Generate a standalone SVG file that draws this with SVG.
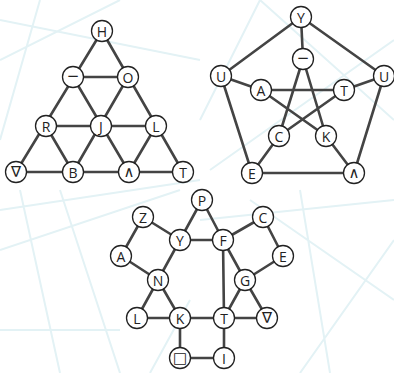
<svg xmlns="http://www.w3.org/2000/svg" width="394" height="373" viewBox="0 0 394 373">
<style>
.bg{stroke:#e3f2f5;stroke-width:2;fill:none}
.e{stroke:#444;stroke-width:2.6;stroke-linecap:round;fill:none}
.n circle{fill:#fff;stroke:#222;stroke-width:1.3}
.n text{font-family:"Open Sans","DejaVu Sans",sans-serif;font-size:14px;fill:#222;text-anchor:middle;dominant-baseline:central}
.n text.s{font-family:"DejaVu Sans",sans-serif;font-size:15px}
</style>
<rect width="394" height="373" fill="#fff"/>
<g id="background">
<path class="bg" d="M0 60 L120 0 M0 250 L180 190 M60 373 L20 190 M0 330 L120 330 M120 373 L60 190 M0 210 L200 180 M150 373 L190 300 M300 373 L394 240 M394 300 L250 200 M330 373 L300 190 M394 200 L200 220 M260 0 L394 120 M210 170 L394 40 M0 140 L40 0 M200 120 L260 0 M0 20 L200 60"/>
</g>
<g id="connectors">
<path class="e" d="M102 31 L16 172 M102 31 L183 172 M73 77 L128 77 M46 126 L156 126 M16 172 L183 172 M73 77 L129 172 M128 77 L73 172 M46 126 L73 172 M156 126 L129 172"/>
<path class="e" d="M301 17 L221 76 M301 17 L384 76 M301 17 L303 59 M221 76 L261 90 M384 76 L344 90 M221 76 L252 173 M384 76 L354 173 M252 173 L354 173 M252 173 L279 136 M354 173 L326 136 M261 90 L344 90 M261 90 L326 136 M344 90 L279 136 M303 59 L279 136 M303 59 L326 136"/>
<path class="e" d="M143 217 L180 240 M143 217 L121 256 M121 256 L158 280 M158 280 L180 240 M180 240 L202 200 M202 200 L223 240 M180 240 L223 240 M223 240 L263 217 M263 217 L283 256 M283 256 L245 280 M223 240 L245 280 M223 240 L224 318 M245 280 L224 318 M245 280 L267 318 M224 318 L267 318 M158 280 L137 318 M158 280 L180 318 M137 318 L224 318 M180 318 L180 358 M224 318 L224 358 M180 358 L224 358"/>
</g>
<g id="tri-H" class="n"><circle cx="102" cy="31" r="10.5"/><text x="102" y="31">H</text></g>
<g id="tri-minus" class="n"><circle cx="73" cy="77" r="10.5"/><text class="s" x="73" y="76">−</text></g>
<g id="tri-O" class="n"><circle cx="128" cy="77" r="10.5"/><text x="128" y="77">O</text></g>
<g id="tri-R" class="n"><circle cx="46" cy="126" r="10.5"/><text x="46" y="126">R</text></g>
<g id="tri-J" class="n"><circle cx="101" cy="126" r="10.5"/><text x="101" y="126">J</text></g>
<g id="tri-L" class="n"><circle cx="156" cy="126" r="10.5"/><text x="156" y="126">L</text></g>
<g id="tri-nabla" class="n"><circle cx="16" cy="172" r="10.5"/><text class="s" x="16" y="172">∇</text></g>
<g id="tri-B" class="n"><circle cx="73" cy="172" r="10.5"/><text x="73" y="172">B</text></g>
<g id="tri-and" class="n"><circle cx="129" cy="172" r="10.5"/><text class="s" x="129" y="172">∧</text></g>
<g id="tri-T" class="n"><circle cx="183" cy="172" r="10.5"/><text x="183" y="172">T</text></g>

<g id="pet-Y" class="n"><circle cx="301" cy="17" r="10.5"/><text x="301" y="17">Y</text></g>
<g id="pet-minus" class="n"><circle cx="303" cy="59" r="10.5"/><text class="s" x="303" y="58">−</text></g>
<g id="pet-U1" class="n"><circle cx="221" cy="76" r="10.5"/><text x="221" y="76">U</text></g>
<g id="pet-U2" class="n"><circle cx="384" cy="76" r="10.5"/><text x="384" y="76">U</text></g>
<g id="pet-A" class="n"><circle cx="261" cy="90" r="10.5"/><text x="261" y="90">A</text></g>
<g id="pet-T" class="n"><circle cx="344" cy="90" r="10.5"/><text x="344" y="90">T</text></g>
<g id="pet-C" class="n"><circle cx="279" cy="136" r="10.5"/><text x="279" y="136">C</text></g>
<g id="pet-K" class="n"><circle cx="326" cy="136" r="10.5"/><text x="326" y="136">K</text></g>
<g id="pet-E" class="n"><circle cx="252" cy="173" r="10.5"/><text x="252" y="173">E</text></g>
<g id="pet-and" class="n"><circle cx="354" cy="173" r="10.5"/><text class="s" x="354" y="173">∧</text></g>

<g id="bot-P" class="n"><circle cx="202" cy="200" r="10.5"/><text x="202" y="200">P</text></g>
<g id="bot-Z" class="n"><circle cx="143" cy="217" r="10.5"/><text x="143" y="217">Z</text></g>
<g id="bot-C" class="n"><circle cx="263" cy="217" r="10.5"/><text x="263" y="217">C</text></g>
<g id="bot-Y" class="n"><circle cx="180" cy="240" r="10.5"/><text x="180" y="240">Y</text></g>
<g id="bot-F" class="n"><circle cx="223" cy="240" r="10.5"/><text x="223" y="240">F</text></g>
<g id="bot-A" class="n"><circle cx="121" cy="256" r="10.5"/><text x="121" y="256">A</text></g>
<g id="bot-E" class="n"><circle cx="283" cy="256" r="10.5"/><text x="283" y="256">E</text></g>
<g id="bot-N" class="n"><circle cx="158" cy="280" r="10.5"/><text x="158" y="280">N</text></g>
<g id="bot-G" class="n"><circle cx="245" cy="280" r="10.5"/><text x="245" y="280">G</text></g>
<g id="bot-L" class="n"><circle cx="137" cy="318" r="10.5"/><text x="137" y="318">L</text></g>
<g id="bot-K" class="n"><circle cx="180" cy="318" r="10.5"/><text x="180" y="318">K</text></g>
<g id="bot-T" class="n"><circle cx="224" cy="318" r="10.5"/><text x="224" y="318">T</text></g>
<g id="bot-nabla" class="n"><circle cx="267" cy="318" r="10.5"/><text class="s" x="267" y="318">∇</text></g>
<g id="bot-square" class="n"><circle cx="180" cy="358" r="10.5"/><text class="s" x="180" y="358">□</text></g>
<g id="bot-I" class="n"><circle cx="224" cy="358" r="10.5"/><text x="224" y="358">I</text></g>
</svg>
